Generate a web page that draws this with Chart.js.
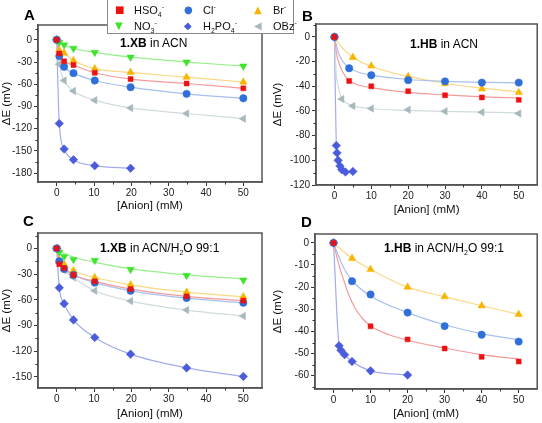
<!DOCTYPE html>
<html>
<head>
<meta charset="utf-8">
<script src="https://cdn.jsdelivr.net/npm/chart.js@4/dist/chart.umd.min.js"></script>
<style>
  body { margin: 0; background: #fff; font-family: "Liberation Sans", Arial, sans-serif; }
  #wrap { position: relative; width: 542px; height: 423px; overflow: hidden; }
  canvas { position: absolute; }
  .letter { position: absolute; font-weight: bold; font-size: 15px; line-height: 15px; color: #000; }
  .ttl { position: absolute; font-size: 12px; line-height: 14px; color: #000; white-space: nowrap; }
  #legend { position: absolute; left: 107px; top: -1px; width: 185px; height: 33px; border: 1px solid #888; background: #fff; font-size: 11px; }
  .li { position: absolute; white-space: nowrap; line-height: 12px; color: #111; }
  .mk { position: absolute; font-family: "DejaVu Sans"; font-size: 10px; line-height: 12px; }
  sub, sup { font-size: 7px; line-height: 0; }
</style>
</head>
<body>
<div id="wrap">
  <canvas id="cA" width="271" height="215" style="left:0;top:0"></canvas>
  <canvas id="cB" width="271" height="219" style="left:271px;top:0"></canvas>
  <canvas id="cC" width="271" height="212" style="left:0;top:211px"></canvas>
  <canvas id="cD" width="271" height="212" style="left:271px;top:211px"></canvas>

  <div class="letter" style="left:24px;top:7px">A</div>
  <div class="letter" style="left:302px;top:8px">B</div>
  <div class="letter" style="left:23px;top:213px">C</div>
  <div class="letter" style="left:301px;top:214px">D</div>

  <div class="ttl" style="left:120px;top:36px"><b>1.XB</b> in ACN</div>
  <div class="ttl" style="left:410px;top:37px"><b>1.HB</b> in ACN</div>
  <div class="ttl" style="left:100px;top:241px"><b>1.XB</b> in ACN/H<sub>2</sub>O 99:1</div>
  <div class="ttl" style="left:384px;top:241px"><b>1.HB</b> in ACN/H<sub>2</sub>O 99:1</div>

  <div id="legend">
    <span class="mk" style="left:7px;top:4px;color:#ee1111">■</span>
    <span class="li" style="left:26px;top:4px">HSO<sub>4</sub><sup>-</sup></span>
    <span class="mk" style="left:76px;top:4px;color:#2f6fd8">●</span>
    <span class="li" style="left:95px;top:4px">Cl<sup>-</sup></span>
    <span class="mk" style="left:146px;top:4px;color:#f7b500">▲</span>
    <span class="li" style="left:165px;top:4px">Br<sup>-</sup></span>
    <span class="mk" style="left:7px;top:20px;color:#3fe32c">▼</span>
    <span class="li" style="left:26px;top:20px">NO<sub>3</sub><sup>-</sup></span>
    <span class="mk" style="left:76px;top:20px;color:#4a5cdc">◆</span>
    <span class="li" style="left:95px;top:20px">H<sub>2</sub>PO<sub>4</sub><sup>-</sup></span>
    <span class="mk" style="left:146px;top:20px;color:#a7b8bd">◀</span>
    <span class="li" style="left:165px;top:20px">OBz<sup>-</sup></span>
  </div>
</div>

<script>
// ---- tick labels
const xTicks = [0, 10, 20, 30, 40, 50];
const yTicksA = [-180, -150, -120, -90, -60, -30, 0];
const yTicksB = [-120, -100, -80, -60, -40, -20, 0];
const yTicksC = [-150, -120, -90, -60, -30, 0];
const yTicksD = [-60, -50, -40, -30, -20, -10, 0];

// ---- A: 1.XB in ACN
const xA = [0, 0.7, 2, 4.5, 10.2, 19.8, 34.8, 50];
const aHSO4 = [0, -18.5, -29, -34, -44.5, -53, -59, -65.5];
const aCl = [0, -22, -36.5, -45, -55, -64, -73, -79];
const aBr = [0, -14, -18, -28, -39, -44, -50.5, -57];
const aNO3 = [0, -3.5, -7, -11.5, -17, -23.5, -30, -35.5];
const aOBz = [0, -33, -55, -69, -81.5, -92, -99.5, -106.5];
const xAH2PO4 = [0, 0.7, 2, 4.5, 10.2, 19.8];
const aH2PO4 = [0, -113, -147.5, -162, -170, -173.5];

// ---- B: 1.HB in ACN
const xBHSO4 = [0, 4, 10, 20, 30, 40, 50];
const bHSO4 = [0, -35.7, -40, -44, -47.3, -49, -51];
const xBCl = [0, 4, 10, 20, 30, 40, 50];
const bCl = [0, -25.4, -31, -35, -36, -37, -37];
const xBBr = [0, 5, 10, 20, 30, 40, 50];
const bBr = [0, -16.5, -23.5, -32, -37.8, -42, -45];
const xBOBz = [0, 2, 5, 10, 20, 30, 40, 50];
const bOBz = [0, -50.3, -56, -58, -59, -60.3, -61, -62];
const xBH2PO4 = [0, 0.5, 0.7, 1, 1.5, 2, 3, 5];
const bH2PO4 = [0, -88, -94, -100, -104.6, -107.6, -109.5, -109];
// fitted curves
const fxBHSO4 = [0, 0.5, 1, 2, 3, 4, 6, 10, 20, 30, 40, 50];
const fyBHSO4 = [0, -12, -19, -27, -32, -35.5, -38.5, -41, -45, -47, -48.5, -49.5];
const fxBCl = [0, 1, 2, 3, 4, 6, 10, 20, 30, 40, 50];
const fyBCl = [0, -12, -18.5, -22.5, -25, -28, -31, -34.5, -36, -36.8, -37.2];
const fxBBr = [0, 1, 2, 3, 5, 10, 20, 30, 40, 50];
const fyBBr = [0, -4.5, -8.5, -11.5, -16.5, -24, -32, -37.5, -41.5, -44.5];
const fxBOBz = [0, 0.5, 1, 2, 5, 10, 20, 30, 40, 50];
const fyBOBz = [0, -30, -40, -49.5, -55.5, -58, -59.5, -60.3, -61, -61.5];

// ---- C: 1.XB in ACN/H2O 99:1
const xC = [0, 0.7, 2, 4.5, 10.2, 19.8, 34.8, 50];
const cHSO4 = [0, -18.5, -23, -31, -38.5, -47.5, -56, -61];
const cCl = [0, -15, -24, -31, -40, -49.5, -58, -63.5];
const cBr = [0, -13.5, -18.5, -26, -34, -42.5, -51, -56.5];
const cNO3 = [0, -4.5, -9.5, -13, -14, -24.5, -31.5, -37];
const cOBz = [0, -17, -25.5, -34, -49.5, -61.5, -72, -79];
const cH2PO4 = [0, -46, -64.5, -83.5, -104, -123.5, -139.5, -149.5];
const fxCNO3 = [0, 2, 4.5, 10, 20, 35, 50];
const fyCNO3 = [0, -6, -10, -16, -24, -31, -35.5];

// ---- D: 1.HB in ACN/H2O 99:1
const xDHSO4 = [0, 10, 20, 30, 40, 50];
const dHSO4 = [0, -37.7, -43.6, -47.7, -51.5, -53.6];
const xDCl = [0, 5, 10, 20, 30, 40, 50];
const dCl = [0, -17.3, -23.3, -31.5, -37.6, -41.5, -44.6];
const xDBr = [0, 5, 10, 20, 30, 40, 50];
const dBr = [0, -7, -12, -20, -24.3, -28.4, -32.3];
const xDH2PO4 = [0, 1.5, 2, 3, 5, 10, 20];
const dH2PO4 = [0, -46.5, -48.5, -50.5, -53.6, -57.8, -59.7];
const fxDHSO4 = [0, 1, 2, 3, 4, 6, 8, 10, 15, 20, 30, 40, 50];
const fyDHSO4 = [0, -7, -13, -18, -23, -30, -34.5, -37.5, -41.5, -44, -47.5, -50.5, -52.5];
const fxDCl = [0, 1, 2, 3, 5, 10, 20, 30, 40, 50];
const fyDCl = [0, -4.5, -8.5, -12, -17, -24, -31.5, -37, -41, -43.8];

const STY = {
  HSO4:  { c: '#ee1111', l: '#f49a9a', ps: 'rect', rot: 0, r: 3.5 },
  Cl:    { c: '#2f6fd8', l: '#a6c0ef', ps: 'circle', rot: 0, r: 3.7 },
  Br:    { c: '#f7b500', l: '#f9d883', ps: 'triangle', rot: 0, r: 4.3 },
  NO3:   { c: '#3fe32c', l: '#98ef8c', ps: 'triangle', rot: 180, r: 4.3 },
  H2PO4: { c: '#4a5cdc', l: '#a3abee', ps: 'rectRot', rot: 0, r: 4.3 },
  OBz:   { c: '#a7b8bd', l: '#d0dbde', ps: 'triangle', rot: 270, r: 4.3 }
};

const pts = (xs, ys) => xs.map((x, i) => ({ x: x, y: ys[i] }));

function datasets(series) {
  const out = [];
  series.forEach(s => {
    const st = STY[s.k];
    out.push({
      data: s.fx ? pts(s.fx, s.fy) : pts(s.x, s.y),
      showLine: true, borderColor: st.l, borderWidth: 1.2, pointRadius: 0,
      cubicInterpolationMode: 'monotone', order: 2
    });
  });
  series.forEach(s => {
    const st = STY[s.k];
    out.push({
      data: pts(s.x, s.y), showLine: false,
      pointStyle: st.ps, rotation: st.rot, pointRadius: st.r,
      backgroundColor: st.c, borderColor: st.c, borderWidth: 0.5, order: 1
    });
  });
  return out;
}

function axis(min, max, ticks, title, size, isY) {
  return {
    type: 'linear', min: min, max: max,
    afterBuildTicks: s => { s.ticks = ticks.map(v => ({ value: v })); },
    afterFit: s => { if (isY) s.width = size; else s.height = size; },
    grid: { drawOnChartArea: false, drawTicks: true, tickLength: 4, color: '#333' },
    border: { display: true, color: '#555', width: 1.5 },
    ticks: { color: '#222', font: { size: 10, family: 'Liberation Sans' }, padding: isY ? 2 : 1, autoSkip: false, maxRotation: 0 },
    title: { display: true, text: title, color: '#111', font: { size: 11.5, family: 'Liberation Sans' }, padding: { top: 0, bottom: 2 } }
  };
}

// box frame + minor ticks
const frame = {
  id: 'frame',
  afterDraw(chart) {
    const { ctx, chartArea: a, scales } = chart;
    ctx.save();
    ctx.strokeStyle = '#555';
    ctx.lineWidth = 1.5;
    ctx.strokeRect(a.left, a.top, a.right - a.left, a.bottom - a.top);
    ctx.strokeStyle = '#333';
    ctx.lineWidth = 1;
    ctx.beginPath();
    const xs = scales.x, ys = scales.y;
    const dx = xs.ticks[1].value - xs.ticks[0].value;
    for (let v = xs.ticks[0].value - dx / 2; v < xs.max; v += dx) {
      if (v <= xs.min) continue;
      const p = Math.round(xs.getPixelForValue(v)) + 0.5;
      ctx.moveTo(p, a.bottom); ctx.lineTo(p, a.bottom + 2.5);
    }
    const dy = ys.ticks[1].value - ys.ticks[0].value;
    for (let v = ys.ticks[0].value - dy / 2; v < ys.max; v += dy) {
      if (v <= ys.min) continue;
      const p = Math.round(ys.getPixelForValue(v)) + 0.5;
      ctx.moveTo(a.left, p); ctx.lineTo(a.left - 2.5, p);
    }
    ctx.stroke();
    ctx.restore();
  }
};

function panel(id, yMin, yMax, yTicks, yW, xH, pad, series) {
  new Chart(document.getElementById(id), {
    type: 'scatter',
    data: { datasets: datasets(series) },
    options: {
      responsive: false, animation: false,
      layout: { padding: pad },
      plugins: { legend: { display: false }, tooltip: { enabled: false } },
      scales: {
        x: axis(-5, 55, xTicks, '[Anion] (mM)', xH, false),
        y: axis(yMin, yMax, yTicks, 'ΔE (mV)', yW, true)
      }
    },
    plugins: [frame]
  });
}

panel('cA', -192, 20, yTicksA, 38, 33, { left: 0, top: 25, right: 9, bottom: 0 }, [
  { k: 'HSO4', x: xA, y: aHSO4 },
  { k: 'Cl', x: xA, y: aCl },
  { k: 'Br', x: xA, y: aBr },
  { k: 'NO3', x: xA, y: aNO3 },
  { k: 'OBz', x: xA, y: aOBz },
  { k: 'H2PO4', x: xAH2PO4, y: aH2PO4 }
]);

panel('cB', -120, 10.5, yTicksB, 45, 34, { left: 0, top: 24, right: 3, bottom: 0 }, [
  { k: 'HSO4', x: xBHSO4, y: bHSO4, fx: fxBHSO4, fy: fyBHSO4 },
  { k: 'Cl', x: xBCl, y: bCl, fx: fxBCl, fy: fyBCl },
  { k: 'Br', x: xBBr, y: bBr, fx: fxBBr, fy: fyBBr },
  { k: 'OBz', x: xBOBz, y: bOBz, fx: fxBOBz, fy: fyBOBz },
  { k: 'H2PO4', x: xBH2PO4, y: bH2PO4 }
]);

panel('cC', -163, 18, yTicksC, 38, 35, { left: 0, top: 22, right: 9, bottom: 0 }, [
  { k: 'HSO4', x: xC, y: cHSO4 },
  { k: 'Cl', x: xC, y: cCl },
  { k: 'Br', x: xC, y: cBr },
  { k: 'NO3', x: xC, y: cNO3, fx: fxCNO3, fy: fyCNO3 },
  { k: 'OBz', x: xC, y: cOBz },
  { k: 'H2PO4', x: xC, y: cH2PO4 }
]);

panel('cD', -66, 4, yTicksD, 44, 34, { left: 0, top: 23, right: 3, bottom: 0 }, [
  { k: 'HSO4', x: xDHSO4, y: dHSO4, fx: fxDHSO4, fy: fyDHSO4 },
  { k: 'Cl', x: xDCl, y: dCl, fx: fxDCl, fy: fyDCl },
  { k: 'Br', x: xDBr, y: dBr },
  { k: 'H2PO4', x: xDH2PO4, y: dH2PO4 }
]);
</script>
</body>
</html>
